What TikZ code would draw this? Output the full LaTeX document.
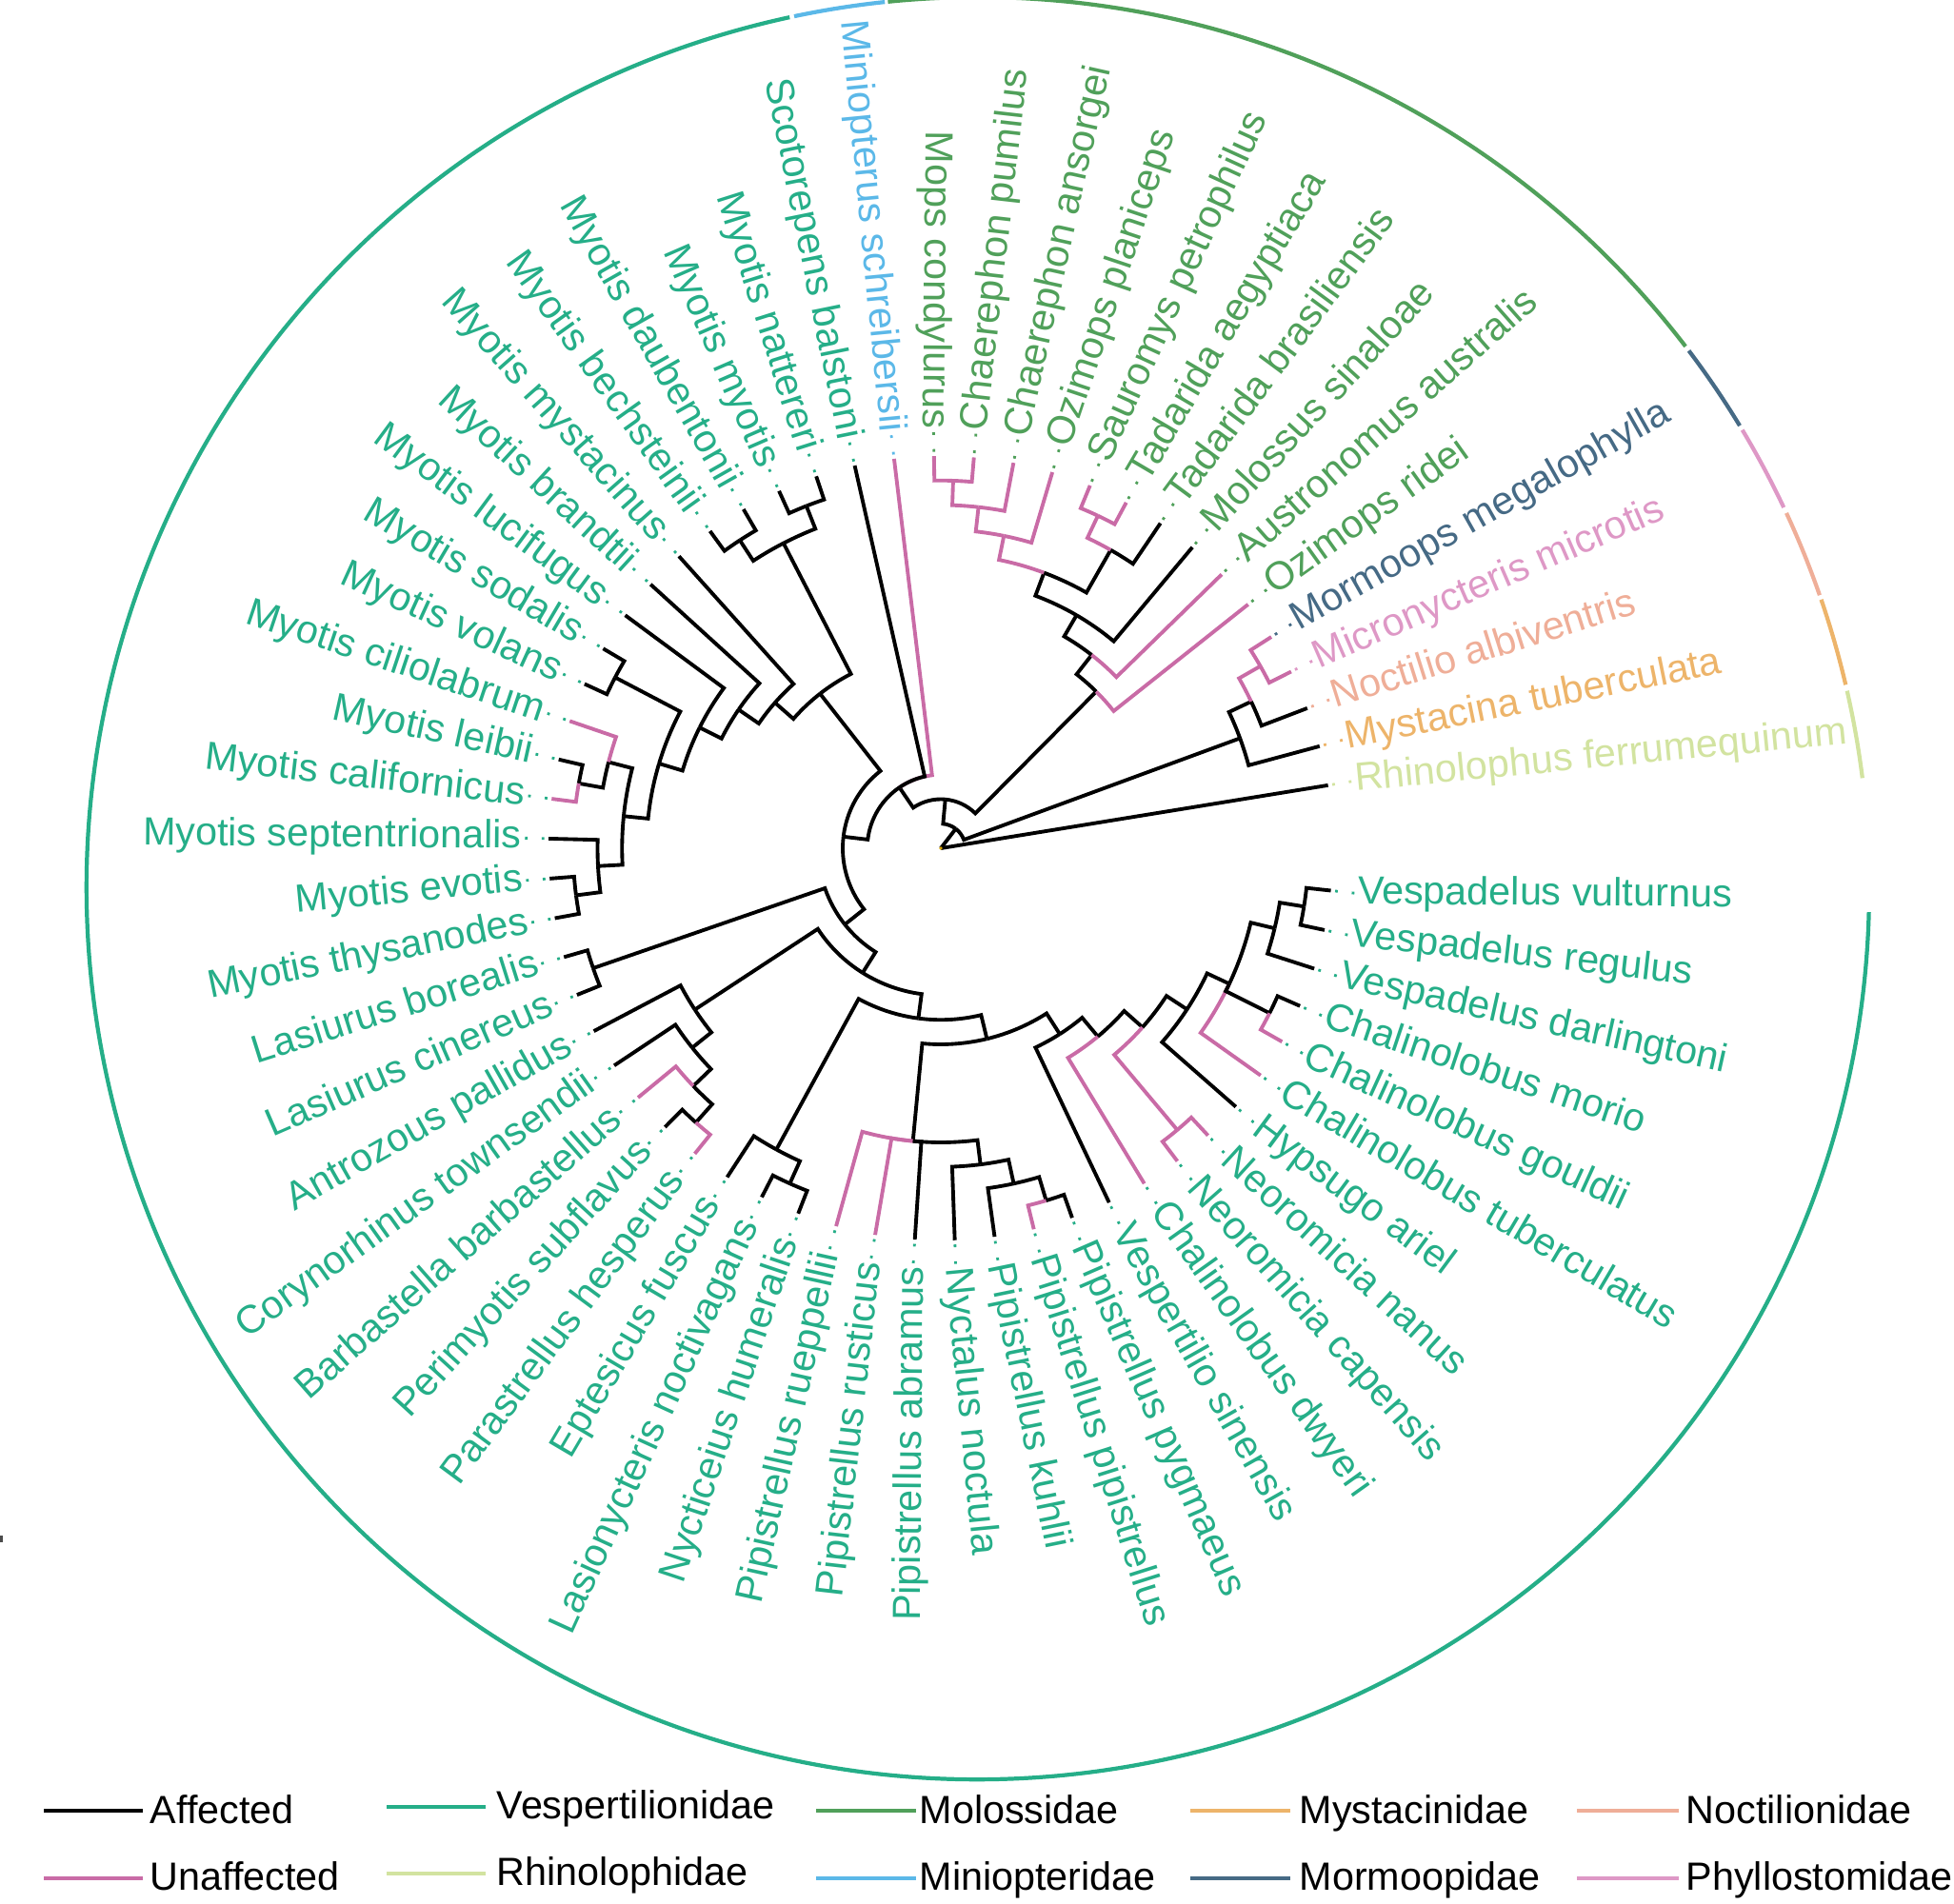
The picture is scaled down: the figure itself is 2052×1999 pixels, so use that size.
\documentclass[tikz,border=0pt]{standalone}
\usepackage{fontspec}
\setmainfont{Liberation Sans}
\usetikzlibrary{positioning}

\definecolor{unaff}{HTML}{C96BA6}
\definecolor{vesp}{HTML}{25AE88}
\definecolor{molo}{HTML}{50A05A}
\definecolor{myst}{HTML}{EDB46A}
\definecolor{noct}{HTML}{EFAE98}
\definecolor{rhino}{HTML}{D2E3A0}
\definecolor{mini}{HTML}{5BB8E8}
\definecolor{mormo}{HTML}{466A85}
\definecolor{phyl}{HTML}{DE98C6}
\definecolor{rootc}{HTML}{D9A400}

\newcommand\labfont{\fontsize{11.75pt}{14pt}\selectfont}
% branch: style, parent level, parent angle, child angle, child level
\newcommand\branch[5]{\draw[#1] (#3:{25.75*#2}) arc[start angle=#3, end angle=#4, radius={25.75*#2}] -- (#4:{25.75*#5});}
% tip labels: index, angle, colour, text
\newcommand\tipR[4]{\draw[dots, #3] (#2:416.5) -- (#2:437);
  \node[labR, text=#3, rotate={359.5-6*#1}] (t#1) at (#2:440) {#4};}
\newcommand\tipL[4]{\draw[dots, #3] (#2:416.5) -- (#2:437);
  \node[labL, text=#3, rotate={179.5-6*#1}] (t#1) at (#2:440) {#4};}

\begin{document}
\begin{tikzpicture}[x=0.01cm, y=0.01cm,
    aff/.style={draw=black, line width=1.1pt},
    un/.style={draw=unaff, line width=1.1pt},
    dots/.style={line width=0.8pt, dash pattern=on 0.8pt off 4.2pt},
    labR/.style={anchor=west, inner sep=0pt, font=\labfont, text height=8.5pt, text depth=2.4pt},
    labL/.style={labR, anchor=east},
    fam/.style={line width=1.2pt},
    leg/.style={line width=1.1pt},
    legtext/.style={anchor=base west, inner sep=0pt, font=\labfont}]
\useasboundingbox (0,0) rectangle (2052,1999);

% family bars
\begin{scope}[shift={(1027,1066)}]
\draw[fam, vesp] (102.2:936) arc[start angle=102.2, end angle=358.46, radius=936];
\draw[fam, mini] (96.0:936) arc[start angle=96.0, end angle=101.9, radius=936];
\draw[fam, molo] (37.45:936) arc[start angle=37.45, end angle=95.8, radius=936];
\draw[fam, mormo] (31.27:936) arc[start angle=31.27, end angle=37.1, radius=936];
\draw[fam, phyl] (25.3:936) arc[start angle=25.3, end angle=30.95, radius=936];
\draw[fam, noct] (19.2:936) arc[start angle=19.2, end angle=24.9, radius=936];
\draw[fam, myst] (13.2:936) arc[start angle=13.2, end angle=18.9, radius=936];
\draw[fam, rhino] (7.1:936) arc[start angle=7.1, end angle=12.8, radius=936];
\end{scope}

\begin{scope}[shift={(988,1108)}]
% root
\draw[aff] (0,0) -- (9.24:412);
\draw[aff] (0,0) -- (52.47:25.75);
\branch{aff}{1}{52.47}{20.19}{13}
\branch{aff}{1}{52.47}{84.745}{2}
% noctilionoids + Mystacina
\branch{aff}{13}{20.19}{25.30}{14}
\branch{aff}{13}{20.19}{15.08}{16}
\branch{un}{14}{25.30}{29.68}{15}
\branch{aff}{14}{25.30}{20.92}{16}
\branch{un}{15}{29.68}{32.60}{16}
\branch{un}{15}{29.68}{26.76}{16}
\branch{aff}{2}{84.745}{45.24}{9}
\branch{aff}{2}{84.745}{124.25}{3}
% Molossidae
\branch{aff}{9}{45.24}{52.035}{10}
\branch{un}{9}{45.24}{38.44}{16}
\branch{aff}{10}{52.035}{59.79}{11}
\branch{un}{10}{52.035}{44.28}{16}
\branch{aff}{11}{59.79}{69.465}{12}
\branch{aff}{11}{59.79}{50.12}{16}
\branch{un}{12}{69.465}{78.59}{13}
\branch{aff}{12}{69.465}{60.34}{14}
\branch{un}{13}{78.59}{83.70}{14}
\branch{un}{13}{78.59}{73.48}{16}
\branch{un}{14}{83.70}{88.08}{15}
\branch{un}{14}{83.70}{79.32}{16}
\branch{un}{15}{88.08}{91.00}{16}
\branch{un}{15}{88.08}{85.16}{16}
\branch{un}{14}{60.34}{64.72}{15}
\branch{aff}{14}{60.34}{55.96}{16}
\branch{un}{15}{64.72}{67.64}{16}
\branch{un}{15}{64.72}{61.80}{16}
% Miniopterus, Scotorepens, rest
\branch{un}{3}{124.25}{96.84}{16}
\branch{aff}{3}{124.25}{102.68}{16}
\branch{aff}{3}{124.25}{173.23}{4}
\branch{aff}{4}{173.23}{128.0}{8}
\branch{aff}{4}{173.23}{218.46}{5}
% Myotis
\branch{aff}{8}{128.0}{117.28}{14}
\branch{aff}{8}{128.0}{138.725}{9}
\branch{aff}{14}{117.28}{111.44}{15}
\branch{aff}{14}{117.28}{123.12}{15}
\branch{aff}{15}{111.44}{108.52}{16}
\branch{aff}{15}{111.44}{114.36}{16}
\branch{aff}{15}{123.12}{120.20}{16}
\branch{aff}{15}{123.12}{126.04}{16}
\branch{aff}{9}{138.725}{131.88}{16}
\branch{aff}{9}{138.725}{145.57}{10}
\branch{aff}{10}{145.57}{137.72}{16}
\branch{aff}{10}{145.57}{153.415}{11}
\branch{aff}{11}{153.415}{143.56}{16}
\branch{aff}{11}{153.415}{163.27}{12}
\branch{aff}{12}{163.27}{152.32}{15}
\branch{aff}{12}{163.27}{174.22}{13}
\branch{aff}{15}{152.32}{149.40}{16}
\branch{aff}{15}{152.32}{155.24}{16}
\branch{aff}{13}{174.22}{165.46}{14}
\branch{aff}{13}{174.22}{182.98}{14}
\branch{un}{14}{165.46}{161.08}{16}
\branch{aff}{14}{165.46}{169.84}{15}
\branch{aff}{15}{169.84}{166.92}{16}
\branch{un}{15}{169.84}{172.76}{16}
\branch{aff}{14}{182.98}{178.60}{16}
\branch{aff}{14}{182.98}{187.36}{15}
\branch{aff}{15}{187.36}{184.44}{16}
\branch{aff}{15}{187.36}{190.28}{16}
% other vespertilionids
\branch{aff}{5}{218.46}{199.04}{15}
\branch{aff}{5}{218.46}{237.88}{6}
\branch{aff}{15}{199.04}{196.12}{16}
\branch{aff}{15}{199.04}{201.96}{16}
\branch{aff}{6}{237.88}{213.275}{12}
\branch{aff}{6}{237.88}{262.48}{7}
\branch{aff}{12}{213.275}{207.80}{16}
\branch{aff}{12}{213.275}{218.75}{13}
\branch{aff}{13}{218.75}{213.64}{16}
\branch{aff}{13}{218.75}{223.86}{14}
\branch{un}{14}{223.86}{219.48}{16}
\branch{aff}{14}{223.86}{228.24}{15}
\branch{aff}{15}{228.24}{225.32}{16}
\branch{un}{15}{228.24}{231.16}{16}
\branch{aff}{7}{262.48}{241.38}{14}
\branch{aff}{7}{262.48}{283.585}{8}
\branch{aff}{14}{241.38}{237.00}{16}
\branch{aff}{14}{241.38}{245.76}{15}
\branch{aff}{15}{245.76}{242.84}{16}
\branch{aff}{15}{245.76}{248.68}{16}
\branch{aff}{8}{283.585}{264.56}{12}
\branch{aff}{8}{283.585}{302.61}{9}
\branch{un}{12}{264.56}{254.52}{16}
\branch{un}{12}{264.56}{260.36}{16}
\branch{aff}{12}{264.56}{266.20}{16}
\branch{aff}{12}{264.56}{277.15}{13}
\branch{aff}{13}{277.15}{272.04}{16}
\branch{aff}{13}{277.15}{282.26}{14}
\branch{aff}{14}{282.26}{277.88}{16}
\branch{aff}{14}{282.26}{286.64}{15}
\branch{un}{15}{286.64}{283.72}{16}
\branch{aff}{15}{286.64}{289.56}{16}
\branch{aff}{9}{302.61}{295.40}{16}
\branch{aff}{9}{302.61}{309.82}{10}
\branch{un}{10}{309.82}{301.24}{16}
\branch{aff}{10}{309.82}{318.395}{11}
\branch{un}{11}{318.395}{310.00}{15}
\branch{aff}{11}{318.395}{326.79}{12}
\branch{un}{15}{310.00}{307.08}{16}
\branch{un}{15}{310.00}{312.92}{16}
\branch{aff}{12}{326.79}{318.76}{16}
\branch{aff}{12}{326.79}{334.82}{13}
\branch{un}{13}{334.82}{324.60}{16}
\branch{aff}{13}{334.82}{333.36}{15}
\branch{aff}{13}{334.82}{346.50}{14}
\branch{un}{15}{333.36}{330.44}{16}
\branch{aff}{15}{333.36}{336.28}{16}
\branch{aff}{14}{346.50}{342.12}{16}
\branch{aff}{14}{346.50}{350.88}{15}
\branch{aff}{15}{350.88}{347.96}{16}
\branch{aff}{15}{350.88}{353.80}{16}
\fill[rootc] (0,0) circle[radius=1.8];

% tip labels
\tipR{0}{353.80}{vesp}{Vespadelus vulturnus}
\tipR{1}{347.96}{vesp}{Vespadelus regulus}
\tipR{2}{342.12}{vesp}{Vespadelus darlingtoni}
\tipR{3}{336.28}{vesp}{Chalinolobus morio}
\tipR{4}{330.44}{vesp}{Chalinolobus gouldii}
\tipR{5}{324.60}{vesp}{Chalinolobus tuberculatus}
\tipR{6}{318.76}{vesp}{Hypsugo ariel}
\tipR{7}{312.92}{vesp}{Neoromicia nanus}
\tipR{8}{307.08}{vesp}{Neoromicia capensis}
\tipR{9}{301.24}{vesp}{Chalinolobus dwyeri}
\tipR{10}{295.40}{vesp}{Vespertilio sinensis}
\tipR{11}{289.56}{vesp}{Pipistrellus pygmaeus}
\tipR{12}{283.72}{vesp}{Pipistrellus pipistrellus}
\tipR{13}{277.88}{vesp}{Pipistrellus kuhlii}
\tipR{14}{272.04}{vesp}{Nyctalus noctula}
\tipL{15}{266.20}{vesp}{Pipistrellus abramus}
\tipL{16}{260.36}{vesp}{Pipistrellus rusticus}
\tipL{17}{254.52}{vesp}{Pipistrellus rueppellii}
\tipL{18}{248.68}{vesp}{Nycticeius humeralis}
\tipL{19}{242.84}{vesp}{Lasionycteris noctivagans}
\tipL{20}{237.00}{vesp}{Eptesicus fuscus}
\tipL{21}{231.16}{vesp}{Parastrellus hesperus}
\tipL{22}{225.32}{vesp}{Perimyotis subflavus}
\tipL{23}{219.48}{vesp}{Barbastella barbastellus}
\tipL{24}{213.64}{vesp}{Corynorhinus townsendii}
\tipL{25}{207.80}{vesp}{Antrozous pallidus}
\tipL{26}{201.96}{vesp}{Lasiurus cinereus}
\tipL{27}{196.12}{vesp}{Lasiurus borealis}
\tipL{28}{190.28}{vesp}{Myotis thysanodes}
\tipL{29}{184.44}{vesp}{Myotis evotis}
\tipL{30}{178.60}{vesp}{Myotis septentrionalis}
\tipL{31}{172.76}{vesp}{Myotis californicus}
\tipL{32}{166.92}{vesp}{Myotis leibii}
\tipL{33}{161.08}{vesp}{Myotis ciliolabrum}
\tipL{34}{155.24}{vesp}{Myotis volans}
\tipL{35}{149.40}{vesp}{Myotis sodalis}
\tipL{36}{143.56}{vesp}{Myotis lucifugus}
\tipL{37}{137.72}{vesp}{Myotis brandtii}
\tipL{38}{131.88}{vesp}{Myotis mystacinus}
\tipL{39}{126.04}{vesp}{Myotis bechsteinii}
\tipL{40}{120.20}{vesp}{Myotis daubentonii}
\tipL{41}{114.36}{vesp}{Myotis myotis}
\tipL{42}{108.52}{vesp}{Myotis nattereri}
\tipL{43}{102.68}{vesp}{Scotorepens balstoni}
\tipL{44}{96.84}{mini}{Miniopterus schreibersii}
\tipL{45}{91.00}{molo}{Mops condylurus}
\tipR{46}{85.16}{molo}{Chaerephon pumilus}
\tipR{47}{79.32}{molo}{Chaerephon ansorgei}
\tipR{48}{73.48}{molo}{Ozimops planiceps}
\tipR{49}{67.64}{molo}{Sauromys petrophilus}
\tipR{50}{61.80}{molo}{Tadarida aegyptiaca}
\tipR{51}{55.96}{molo}{Tadarida brasiliensis}
\tipR{52}{50.12}{molo}{Molossus sinaloae}
\tipR{53}{44.28}{molo}{Austronomus australis}
\tipR{54}{38.44}{molo}{Ozimops ridei}
\tipR{55}{32.60}{mormo}{Mormoops megalophylla}
\tipR{56}{26.76}{phyl}{Micronycteris microtis}
\tipR{57}{20.92}{noct}{Noctilio albiventris}
\tipR{58}{15.08}{myst}{Mystacina tuberculata}
\tipR{59}{9.24}{rhino}{Rhinolophus ferrumequinum}
\end{scope}

% legend
\draw[leg, black] (46,97) -- (150,97);
\node[legtext] (kAff) at (157,84) {Affected};
\draw[leg, vesp] (406,101) -- (510,101);
\node[legtext] (kVesp) at (521,89) {Vespertilionidae};
\draw[leg, molo] (857,97) -- (962,97);
\node[legtext] (kMolo) at (965,84) {Molossidae};
\draw[leg, myst] (1250,97) -- (1355,97);
\node[legtext] (kMyst) at (1364,84) {Mystacinidae};
\draw[leg, noct] (1656,97) -- (1763,97);
\node[legtext] (kNoct) at (1770,84) {Noctilionidae};
\draw[leg, unaff] (46,26) -- (150,26);
\node[legtext] (kUnaff) at (157,14) {Unaffected};
\draw[leg, rhino] (406,31) -- (510,31);
\node[legtext] (kRhino) at (521,19) {Rhinolophidae};
\draw[leg, mini] (857,26) -- (962,26);
\node[legtext] (kMini) at (965,14) {Miniopteridae};
\draw[leg, mormo] (1250,26) -- (1355,26);
\node[legtext] (kMormo) at (1364,14) {Mormoopidae};
\draw[leg, phyl] (1656,26) -- (1763,26);
\node[legtext] (kPhyl) at (1770,14) {Phyllostomidae};

\fill[black!70] (0,379) rectangle (2.6,386);
\end{tikzpicture}
\end{document}
